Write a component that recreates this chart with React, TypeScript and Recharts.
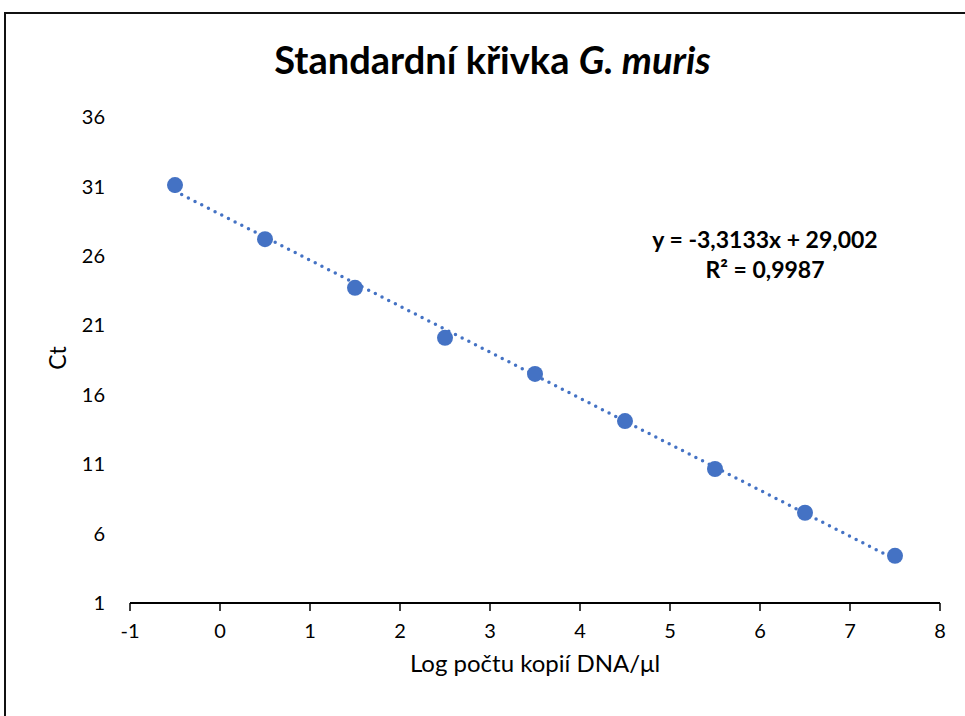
import { Scatter, ScatterChart, XAxis, YAxis } from "recharts";

// log copy number vs Ct
const logCopies = [-0.5, 0.5, 1.5, 2.5, 3.5, 4.5, 5.5, 6.5, 7.5];
const ctValues = [31.1, 27.2, 23.7, 20.1, 17.5, 14.1, 10.65, 7.5, 4.4];

// linear trendline ends (y = -3,3133x + 29,002)
const trendX = [-0.5, 7.5];
const trendY = [30.66, 4.15];

const xTicks = [-1, 0, 1, 2, 3, 4, 5, 6, 7, 8];
const yTicks = [1, 6, 11, 16, 21, 26, 31, 36];

const points = logCopies.map((x, i) => ({ x, y: ctValues[i] }));
const trend = trendX.map((x, i) => ({ x, y: trendY[i] }));

const BLUE = "#4472C4";
const FONT = "Lato, 'Open Sans', sans-serif";

export default function App() {
  return (
    <div
      style={{
        position: "absolute",
        left: 0,
        top: 0,
        width: 965,
        height: 716,
        overflow: "hidden",
        background: "#fff",
        fontFamily: FONT,
      }}
    >
      <div
        style={{
          position: "absolute",
          left: 4,
          top: 12,
          width: 1100,
          height: 900,
          border: "2px solid #111",
        }}
      />
      <div
        style={{
          position: "absolute",
          left: 0,
          width: 985,
          top: 36,
          textAlign: "center",
          fontSize: 38,
          fontWeight: 700,
          color: "#000",
        }}
      >
        Standardní křivka <i>G. muris</i>
      </div>
      <div
        style={{
          position: "absolute",
          left: 640,
          width: 250,
          top: 224,
          textAlign: "center",
          fontSize: 23,
          fontWeight: 700,
          lineHeight: "30px",
          color: "#000",
        }}
      >
        <div>y = -3,3133x + 29,002</div>
        <div>R² = 0,9987</div>
      </div>
      <div
        style={{
          position: "absolute",
          left: 130,
          width: 810,
          top: 648,
          textAlign: "center",
          fontSize: 24,
          color: "#000",
        }}
      >
        Log počtu kopií DNA/μl
      </div>
      <div
        style={{
          position: "absolute",
          left: 57,
          top: 358,
          transform: "translate(-50%, -50%) rotate(-90deg)",
          fontSize: 23,
          color: "#000",
        }}
      >
        Ct
      </div>
      <ScatterChart
        width={965}
        height={716}
        margin={{ top: 117, right: 25, bottom: 0, left: 0 }}
        style={{ position: "absolute", left: 0, top: 0 }}
      >
        <XAxis
          type="number"
          dataKey="x"
          domain={[-1, 8]}
          ticks={xTicks}
          height={113}
          axisLine={{ stroke: "#000", strokeWidth: 2 }}
          tickLine={{ stroke: "#000", strokeWidth: 1.5 }}
          tickSize={8}
          tickMargin={13}
          tick={{ fill: "#000", fontSize: 20, fontFamily: FONT }}
          allowDataOverflow
        />
        <YAxis
          type="number"
          dataKey="y"
          domain={[1, 36]}
          ticks={yTicks}
          width={130}
          axisLine={false}
          tickLine={false}
          tickSize={0}
          tickMargin={25}
          tick={{ fill: "#000", fontSize: 20, fontFamily: FONT }}
          allowDataOverflow
        />
        <Scatter
          data={trend}
          line={{
            stroke: BLUE,
            strokeWidth: 3.5,
            strokeDasharray: "0 7.5",
            strokeLinecap: "round",
          }}
          lineType="joint"
          shape={() => <g />}
          isAnimationActive={false}
        />
        <Scatter
          data={points}
          shape={(p: any) => <circle cx={p.cx} cy={p.cy} r={8} fill={BLUE} />}
          isAnimationActive={false}
        />
      </ScatterChart>
    </div>
  );
}
